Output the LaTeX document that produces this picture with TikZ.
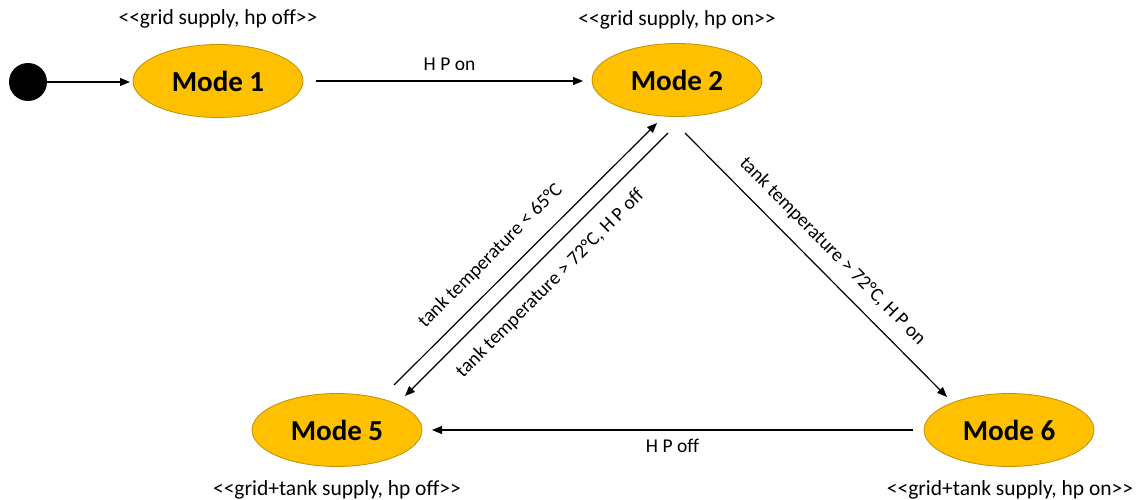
\documentclass[tikz,border=0pt]{standalone}
\usepackage{fontspec}
\setmainfont{Carlito}[Ligatures=NoCommon]
\usetikzlibrary{arrows.meta,shapes.geometric}
\definecolor{stategold}{HTML}{FFC000}
\definecolor{stateborder}{HTML}{BF9000}
\begin{document}
\begin{tikzpicture}[x=1pt,y=-1pt,
  state/.style={ellipse, draw=stateborder, line width=0.8pt, fill=stategold,
    minimum width=170pt, minimum height=73pt, inner sep=0pt,
    font=\fontsize{29}{33}\selectfont\bfseries},
  tag/.style={font=\fontsize{21.5}{25}\selectfont},
  elabel/.style={font=\fontsize{19.5}{23}\selectfont},
  conn/.style={line width=1.2pt, -{Triangle[length=10pt,width=8pt]}},
  rconn/.style={line width=1.2pt, {Triangle[length=10pt,width=8pt]}-}]
\useasboundingbox (0,0) rectangle (1137,500);

\node[circle, fill=black, minimum size=38pt, inner sep=0pt] (init) at (28,82) {};
\node[state] (m1) at (218,81) {Mode 1};
\node[state] (m2) at (677,80) {Mode 2};
\node[state] (m5) at (337,430) {Mode 5};
\node[state] (m6) at (1009,430) {Mode 6};

\node[tag] (t1) at (218,19) {{<}{<}grid supply, hp off{>}{>}};
\node[tag] (t2) at (677,20) {{<}{<}grid supply, hp on{>}{>}};
\node[tag] (t5) at (337,490) {{<}{<}grid+tank supply, hp off{>}{>}};
\node[tag] (t6) at (1010,490) {{<}{<}grid+tank supply, hp on{>}{>}};

\draw[conn] (init.east) -- ([shift={(-88,1)}]m1.center);
\draw[conn] ([shift={(98,0)}]m1.center) -- ([shift={(-94,1)}]m2.center)
  node[elabel, midway, above=6pt] (l12) {H P on};
\draw[conn] ([shift={(-96,0)}]m6.center) -- ([shift={(95,0)}]m5.center)
  node[elabel, midway, below=5pt] (l65) {H P off};
\draw[conn] ([shift={(57,-45)}]m5.center) -- ([shift={(-20,43)}]m2.center)
  node[elabel, pos=0.43, sloped, above=11pt] (l52) {tank temperature < 65°C};
\draw[rconn] ([shift={(68,-34)}]m5.center) -- ([shift={(-9,53)}]m2.center)
  node[elabel, pos=0.49, sloped, below=11pt] (l25) {tank temperature > 72°C, H P off};
\draw[conn] ([shift={(8,53)}]m2.center) -- ([shift={(-62,-33)}]m6.center)
  node[elabel, pos=0.505, sloped, above=9pt] (l26) {tank temperature > 72°C, H P on};
\end{tikzpicture}
\end{document}
